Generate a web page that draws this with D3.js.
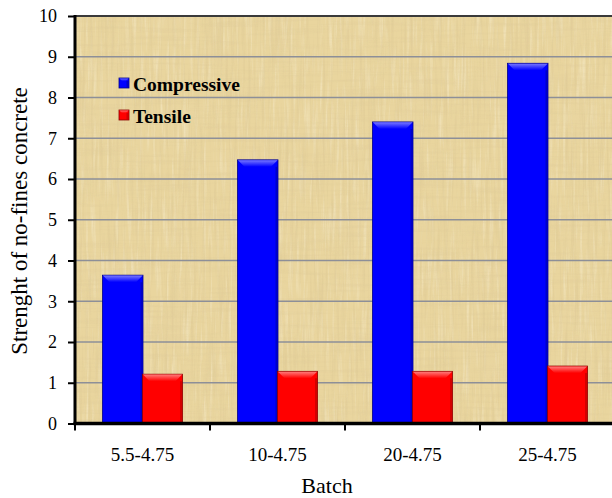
<!DOCTYPE html>
<html>
<head>
<meta charset="utf-8">
<script src="https://cdn.jsdelivr.net/npm/d3@7"></script>
<style>
  html, body { margin: 0; padding: 0; background: #ffffff; }
  svg { display: block; }
</style>
</head>
<body>
<div id="chart"></div>
<script>
// Strength of no-fines concrete per batch
const categories = ["5.5-4.75", "10-4.75", "20-4.75", "25-4.75"];
const seriesNames = ["Compressive", "Tensile"];
const compressive = [3.64, 6.47, 7.40, 8.84];
const tensile = [1.21, 1.28, 1.28, 1.41];
const yTicks = [0, 1, 2, 3, 4, 5, 6, 7, 8, 9, 10];

const W = 612, H = 498;
const plot = { left: 75, right: 615, top: 16, bottom: 423.5 };
const SERIF = "'Liberation Serif'";

const svg = d3.select("#chart").append("svg")
  .attr("width", W).attr("height", H);

const defs = svg.append("defs");

// papyrus-like texture for the plot background
function fibreFilter(id, freq, seed, color, k, b, oct) {
  const f = defs.append("filter").attr("id", id)
    .attr("x", 0).attr("y", 0).attr("width", "100%").attr("height", "100%");
  f.append("feTurbulence").attr("type", "fractalNoise")
    .attr("baseFrequency", freq).attr("numOctaves", oct || 3).attr("seed", seed);
  f.append("feColorMatrix").attr("type", "matrix").attr("values",
    `0 0 0 0 ${color[0]}  0 0 0 0 ${color[1]}  0 0 0 0 ${color[2]}  ${k} 0 0 0 ${b}`);
}
fibreFilter("fibV", "0.35 0.015", 4, [0.72, 0.58, 0.30], 3.0, -1.45);
fibreFilter("fibH", "0.015 0.3", 9, [0.74, 0.60, 0.32], 2.6, -1.30);
fibreFilter("fibL", "0.3 0.02", 17, [0.98, 0.93, 0.76], 2.6, -1.30);
fibreFilter("fibB", "0.03 0.02", 23, [0.82, 0.68, 0.38], 2.0, -0.95, 2);

const colors = {
  Compressive: { base: "#0000ff", light: "#7676ff", dark: "#0000b0", edge: "#00008a" },
  Tensile: { base: "#ff0000", light: "#ff7a7a", dark: "#c00000", edge: "#8a0000" }
};
seriesNames.forEach(s => {
  const g = defs.append("linearGradient").attr("id", "bev-" + s)
    .attr("x1", 0).attr("y1", 0).attr("x2", 0).attr("y2", 1);
  g.append("stop").attr("offset", "0%").attr("stop-color", colors[s].light);
  g.append("stop").attr("offset", "100%").attr("stop-color", colors[s].base);
});

defs.append("clipPath").attr("id", "plotClip").append("rect")
  .attr("x", plot.left).attr("y", plot.top)
  .attr("width", W - plot.left).attr("height", plot.bottom - plot.top);

const x0 = d3.scaleBand().domain(categories).range([plot.left, plot.right]).padding(0);
const barW = 40;
const x1 = d3.scaleBand().domain(seriesNames)
  .range([(x0.bandwidth() - 2 * barW) / 2, (x0.bandwidth() + 2 * barW) / 2]);
const y = d3.scaleLinear().domain([0, 10]).range([plot.bottom, plot.top]);

// background
const bg = svg.append("g").attr("clip-path", "url(#plotClip)");
const bgW = W - plot.left, bgH = plot.bottom - plot.top;
bg.append("rect").attr("x", plot.left).attr("y", plot.top)
  .attr("width", bgW).attr("height", bgH).attr("fill", "#e9d59e");
[["fibB", 0.5], ["fibL", 0.35], ["fibV", 0.5], ["fibH", 0.4]].forEach(([id, op]) => {
  bg.append("rect").attr("x", plot.left).attr("y", plot.top)
    .attr("width", bgW).attr("height", bgH)
    .attr("filter", `url(#${id})`).attr("opacity", op);
});

// gridlines
svg.append("g").selectAll("line")
  .data(yTicks.filter(t => t > 0 && t < 10))
  .join("line")
  .attr("x1", plot.left).attr("x2", W)
  .attr("y1", d => y(d)).attr("y2", d => y(d))
  .attr("stroke", "#8d8f98").attr("stroke-width", 1.5);
svg.append("line")
  .attr("x1", plot.left).attr("x2", W)
  .attr("y1", y(10)).attr("y2", y(10))
  .attr("stroke", "#3a3a3a").attr("stroke-width", 2);

// bars with a bevelled top
const rows = categories.map((c, i) => ({ cat: c, values: [
  { s: "Compressive", v: compressive[i] },
  { s: "Tensile", v: tensile[i] }
]}));

function drawBar(g, bx, by, bw, bh, s, bev) {
  const c = colors[s];
  g.append("rect").attr("x", bx).attr("y", by).attr("width", bw).attr("height", bh)
    .attr("fill", c.base).attr("stroke", c.edge).attr("stroke-width", 0.8);
  g.append("polygon")
    .attr("points", [[bx + bw - 0.4, by + bev], [bx + bw - 0.4, by + bh], [bx + bw - 2.5, by + bh], [bx + bw - 2.5, by + bev]].map(p => p.join(",")).join(" "))
    .attr("fill", c.dark).attr("opacity", 0.7);
  g.append("polygon")
    .attr("points", [[bx + 0.4, by + 0.4], [bx + bw - 0.4, by + 0.4], [bx + bw - bev, by + bev], [bx + bev, by + bev]].map(p => p.join(",")).join(" "))
    .attr("fill", `url(#bev-${s})`);
}

const barsG = svg.append("g").attr("clip-path", "url(#plotClip)");
rows.forEach(r => {
  r.values.forEach(d => {
    const bx = x0(r.cat) + x1(d.s);
    const by = y(d.v);
    drawBar(barsG, bx, by, x1.bandwidth() + (d.s === "Compressive" ? 0.5 : 0), y(0) - by, d.s, 7);
  });
});

// y axis
const yAxis = svg.append("g").attr("transform", `translate(${plot.left},0)`)
  .call(d3.axisLeft(y).tickValues(yTicks).tickSize(7).tickPadding(11).tickFormat(d3.format("d")))
  .attr("font-family", SERIF).attr("font-size", 18);
yAxis.select(".domain").attr("stroke", "#000").attr("stroke-width", 3)
  .attr("d", `M0,${plot.top - 1}V${plot.bottom + 1.5}`);
yAxis.selectAll(".tick line").attr("stroke", "#000").attr("stroke-width", 2);
yAxis.selectAll(".tick text").attr("font-size", 18)
  .attr("font-family", SERIF).attr("fill", "#000");

// x axis
svg.append("line")
  .attr("x1", plot.left - 1.5).attr("x2", W)
  .attr("y1", plot.bottom).attr("y2", plot.bottom)
  .attr("stroke", "#000").attr("stroke-width", 3.5);
const edges = categories.map(c => x0(c)).concat([x0(categories[categories.length - 1]) + x0.bandwidth()]);
svg.append("g").selectAll("line").data(edges).join("line")
  .attr("x1", d => d).attr("x2", d => d)
  .attr("y1", plot.bottom).attr("y2", plot.bottom + 7)
  .attr("stroke", "#000").attr("stroke-width", 2);
svg.append("g").selectAll("text").data(categories).join("text")
  .attr("x", d => x0(d) + x0.bandwidth() / 2)
  .attr("y", 461)
  .attr("text-anchor", "middle")
  .attr("font-family", SERIF)
  .attr("font-size", 19)
  .text(d => d);

// axis titles
svg.append("text").attr("x", 327).attr("y", 493)
  .attr("text-anchor", "middle").attr("font-family", SERIF).attr("font-size", 22).text("Batch");
svg.append("text")
  .attr("transform", "translate(27,221) rotate(-90)")
  .attr("text-anchor", "middle").attr("font-family", SERIF).attr("font-size", 23)
  .text("Strenght of no-fines concrete");

// legend
const legend = svg.append("g");
seriesNames.forEach((s, i) => {
  const ly = 78 + i * 32;
  drawBar(legend, 119, ly, 10, 10, s, 3);
  legend.append("text").attr("x", 133).attr("y", ly + 13)
    .attr("font-family", SERIF)
    .attr("font-size", 19.5).attr("font-weight", "bold").text(s);
});
</script>
</body>
</html>
